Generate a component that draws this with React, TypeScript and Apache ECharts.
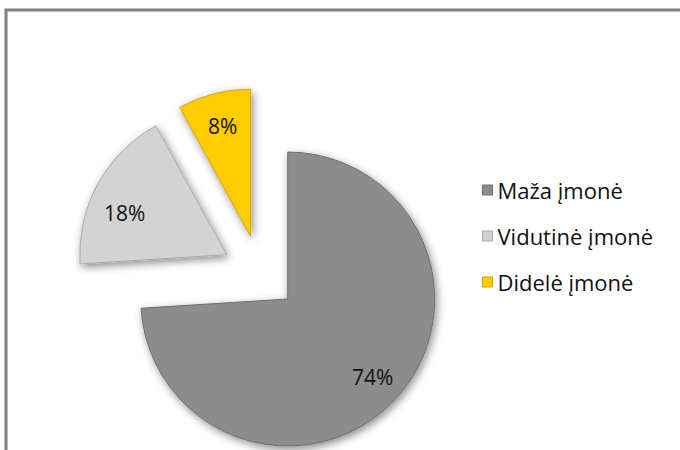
import React, { useEffect, useRef } from "react";
import * as echarts from "echarts";

const categories = ["Maža įmonė", "Vidutinė įmonė", "Didelė įmonė"];
const values = [74, 18, 8];
const colors = ["#8c8c8c", "#d3d3d3", "#ffcc00"];
const borderColors = ["#6e6e6e", "#a9a9a9", "#d4a500"];

export default function App() {
  const ref = useRef<HTMLDivElement>(null);
  useEffect(() => {
    document.body.style.margin = "0";
    const chart = echarts.init(ref.current!, null, { renderer: "svg" });
    const baseData = categories.map((name, i) => ({
      name,
      value: values[i],
      selected: true,
      itemStyle: {
        color: colors[i],
        borderColor: borderColors[i],
        borderWidth: 1,
        shadowBlur: 8,
        shadowColor: "rgba(0,0,0,0.45)",
        shadowOffsetX: 2,
        shadowOffsetY: 3,
      },
    }));
    const labelData = categories.map((name, i) => ({
      name,
      value: values[i],
      selected: true,
      itemStyle: { color: "rgba(0,0,0,0)", borderWidth: 0 },
    }));
    const labelShift = [
      { dx: 0, dy: -2 },
      { dx: 0, dy: 14 },
      { dx: 1, dy: 3 },
    ];
    chart.setOption({
      animation: false,
      backgroundColor: "#ffffff",
      graphic: [
        {
          type: "rect",
          z: -10,
          shape: { x: 6, y: 10, width: 800, height: 600 },
          style: { fill: "none", stroke: "#808080", lineWidth: 3 },
        },
      ],
      legend: {
        orient: "vertical",
        left: 477,
        top: 174,
        icon: "rect",
        itemWidth: 10,
        itemHeight: 10,
        itemGap: 24,
        textStyle: { fontFamily: "Open Sans", fontSize: 22, color: "#111" },
        data: categories.map((name, i) => ({
          name,
          itemStyle: { color: colors[i], borderColor: borderColors[i], borderWidth: 1 },
        })),
      },
      series: [
        {
          type: "pie",
          center: [260, 273],
          radius: [0, 147],
          startAngle: 90,
          clockwise: true,
          selectedMode: "multiple",
          selectedOffset: 38,
          silent: true,
          label: { show: false },
          labelLine: { show: false },
          data: baseData,
        },
        {
          type: "pie",
          center: [260, 273],
          radius: [80, 147],
          startAngle: 90,
          clockwise: true,
          selectedMode: "multiple",
          selectedOffset: 38,
          silent: true,
          z: 5,
          label: {
            show: true,
            position: "inside",
            formatter: "{c}%",
            fontFamily: "Open Sans",
            fontSize: 21,
            color: "#111",
          },
          labelLine: { show: false },
          labelLayout: (params: any) =>
            params.seriesIndex === 1 ? labelShift[params.dataIndex] : {},
          data: labelData,
        },
      ],
    });
    return () => chart.dispose();
  }, []);
  return <div ref={ref} style={{ position: "fixed", left: 0, top: 0, width: 680, height: 450 }} />;
}
